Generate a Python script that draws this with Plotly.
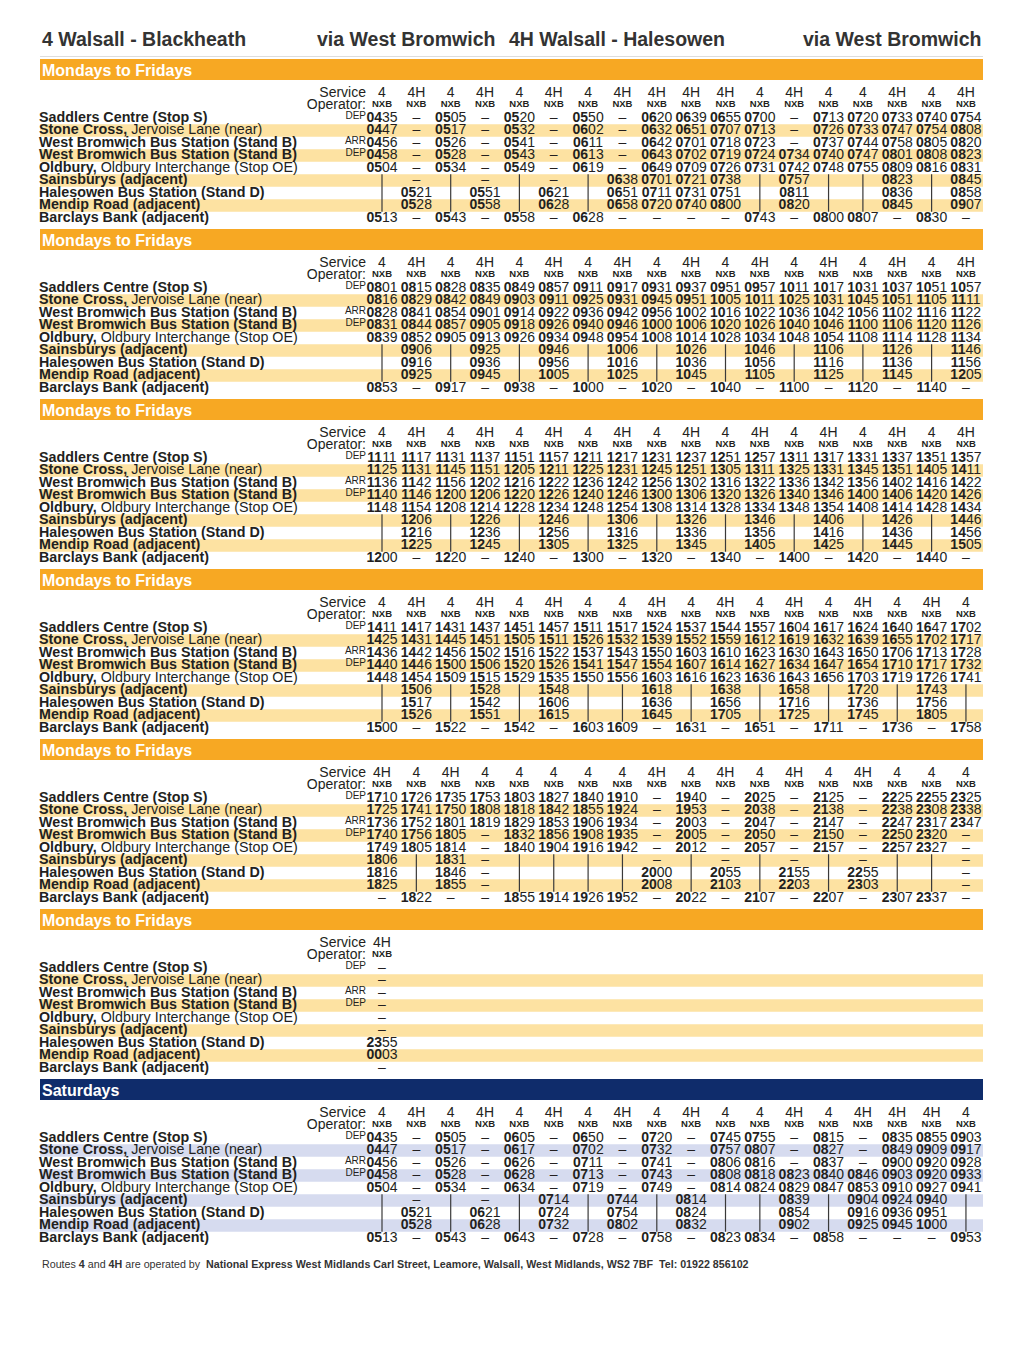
import plotly.graph_objects as go

# Timetable data ("-" = dash, "|" = bus passes without stopping, "" = blank)
stops = [
    "<b>Saddlers Centre (Stop S)</b>",
    "<b>Stone Cross,</b> Jervoise Lane (near)",
    "<b>West Bromwich Bus Station (Stand B)</b>",
    "<b>West Bromwich Bus Station (Stand B)</b>",
    "<b>Oldbury,</b> Oldbury Interchange (Stop OE)",
    "<b>Sainsburys (adjacent)</b>",
    "<b>Halesowen Bus Station (Stand D)</b>",
    "<b>Mendip Road (adjacent)</b>",
    "<b>Barclays Bank (adjacent)</b>",
]
arr_dep = ["DEP", "", "ARR", "DEP", "", "", "", "", ""]

mf1_routes = ["4", "4H", "4", "4H", "4", "4H", "4", "4H", "4H", "4H", "4H", "4", "4H", "4", "4", "4H", "4", "4H"]
mf1_times = [
    ["0435", "-", "0505", "-", "0520", "-", "0550", "-", "0620", "0639", "0655", "0700", "-", "0713", "0720", "0733", "0740", "0754"],
    ["0447", "-", "0517", "-", "0532", "-", "0602", "-", "0632", "0651", "0707", "0713", "-", "0726", "0733", "0747", "0754", "0808"],
    ["0456", "-", "0526", "-", "0541", "-", "0611", "-", "0642", "0701", "0718", "0723", "-", "0737", "0744", "0758", "0805", "0820"],
    ["0458", "-", "0528", "-", "0543", "-", "0613", "-", "0643", "0702", "0719", "0724", "0734", "0740", "0747", "0801", "0808", "0823"],
    ["0504", "-", "0534", "-", "0549", "-", "0619", "-", "0649", "0709", "0726", "0731", "0742", "0748", "0755", "0809", "0816", "0831"],
    ["|", "-", "|", "-", "|", "-", "|", "0638", "0701", "0721", "0738", "|", "0757", "|", "|", "0823", "|", "0845"],
    ["|", "0521", "|", "0551", "|", "0621", "|", "0651", "0711", "0731", "0751", "|", "0811", "|", "|", "0836", "|", "0858"],
    ["|", "0528", "|", "0558", "|", "0628", "|", "0658", "0720", "0740", "0800", "|", "0820", "|", "|", "0845", "|", "0907"],
    ["0513", "-", "0543", "-", "0558", "-", "0628", "-", "-", "-", "-", "0743", "-", "0800", "0807", "-", "0830", "-"],
]

mf2_routes = ["4", "4H"] * 9
mf2_times = [
    ["0801", "0815", "0828", "0835", "0849", "0857", "0911", "0917", "0931", "0937", "0951", "0957", "1011", "1017", "1031", "1037", "1051", "1057"],
    ["0816", "0829", "0842", "0849", "0903", "0911", "0925", "0931", "0945", "0951", "1005", "1011", "1025", "1031", "1045", "1051", "1105", "1111"],
    ["0828", "0841", "0854", "0901", "0914", "0922", "0936", "0942", "0956", "1002", "1016", "1022", "1036", "1042", "1056", "1102", "1116", "1122"],
    ["0831", "0844", "0857", "0905", "0918", "0926", "0940", "0946", "1000", "1006", "1020", "1026", "1040", "1046", "1100", "1106", "1120", "1126"],
    ["0839", "0852", "0905", "0913", "0926", "0934", "0948", "0954", "1008", "1014", "1028", "1034", "1048", "1054", "1108", "1114", "1128", "1134"],
    ["|", "0906", "|", "0925", "|", "0946", "|", "1006", "|", "1026", "|", "1046", "|", "1106", "|", "1126", "|", "1146"],
    ["|", "0916", "|", "0936", "|", "0956", "|", "1016", "|", "1036", "|", "1056", "|", "1116", "|", "1136", "|", "1156"],
    ["|", "0925", "|", "0945", "|", "1005", "|", "1025", "|", "1045", "|", "1105", "|", "1125", "|", "1145", "|", "1205"],
    ["0853", "-", "0917", "-", "0938", "-", "1000", "-", "1020", "-", "1040", "-", "1100", "-", "1120", "-", "1140", "-"],
]

mf3_routes = ["4", "4H"] * 9
mf3_times = [
    ["1111", "1117", "1131", "1137", "1151", "1157", "1211", "1217", "1231", "1237", "1251", "1257", "1311", "1317", "1331", "1337", "1351", "1357"],
    ["1125", "1131", "1145", "1151", "1205", "1211", "1225", "1231", "1245", "1251", "1305", "1311", "1325", "1331", "1345", "1351", "1405", "1411"],
    ["1136", "1142", "1156", "1202", "1216", "1222", "1236", "1242", "1256", "1302", "1316", "1322", "1336", "1342", "1356", "1402", "1416", "1422"],
    ["1140", "1146", "1200", "1206", "1220", "1226", "1240", "1246", "1300", "1306", "1320", "1326", "1340", "1346", "1400", "1406", "1420", "1426"],
    ["1148", "1154", "1208", "1214", "1228", "1234", "1248", "1254", "1308", "1314", "1328", "1334", "1348", "1354", "1408", "1414", "1428", "1434"],
    ["|", "1206", "|", "1226", "|", "1246", "|", "1306", "|", "1326", "|", "1346", "|", "1406", "|", "1426", "|", "1446"],
    ["|", "1216", "|", "1236", "|", "1256", "|", "1316", "|", "1336", "|", "1356", "|", "1416", "|", "1436", "|", "1456"],
    ["|", "1225", "|", "1245", "|", "1305", "|", "1325", "|", "1345", "|", "1405", "|", "1425", "|", "1445", "|", "1505"],
    ["1200", "-", "1220", "-", "1240", "-", "1300", "-", "1320", "-", "1340", "-", "1400", "-", "1420", "-", "1440", "-"],
]

mf4_routes = ["4", "4H", "4", "4H", "4", "4H", "4", "4", "4H", "4", "4H", "4", "4H", "4", "4H", "4", "4H", "4"]
mf4_times = [
    ["1411", "1417", "1431", "1437", "1451", "1457", "1511", "1517", "1524", "1537", "1544", "1557", "1604", "1617", "1624", "1640", "1647", "1702"],
    ["1425", "1431", "1445", "1451", "1505", "1511", "1526", "1532", "1539", "1552", "1559", "1612", "1619", "1632", "1639", "1655", "1702", "1717"],
    ["1436", "1442", "1456", "1502", "1516", "1522", "1537", "1543", "1550", "1603", "1610", "1623", "1630", "1643", "1650", "1706", "1713", "1728"],
    ["1440", "1446", "1500", "1506", "1520", "1526", "1541", "1547", "1554", "1607", "1614", "1627", "1634", "1647", "1654", "1710", "1717", "1732"],
    ["1448", "1454", "1509", "1515", "1529", "1535", "1550", "1556", "1603", "1616", "1623", "1636", "1643", "1656", "1703", "1719", "1726", "1741"],
    ["|", "1506", "|", "1528", "|", "1548", "|", "|", "1618", "|", "1638", "|", "1658", "|", "1720", "|", "1743", "|"],
    ["|", "1517", "|", "1542", "|", "1606", "|", "|", "1636", "|", "1656", "|", "1716", "|", "1736", "|", "1756", "|"],
    ["|", "1526", "|", "1551", "|", "1615", "|", "|", "1645", "|", "1705", "|", "1725", "|", "1745", "|", "1805", "|"],
    ["1500", "-", "1522", "-", "1542", "-", "1603", "1609", "-", "1631", "-", "1651", "-", "1711", "-", "1736", "-", "1758"],
]

mf5_routes = ["4H", "4", "4H", "4", "4", "4", "4", "4", "4H", "4", "4H", "4", "4H", "4", "4H", "4", "4", "4"]
mf5_times = [
    ["1710", "1726", "1735", "1753", "1803", "1827", "1840", "1910", "-", "1940", "-", "2025", "-", "2125", "-", "2225", "2255", "2325"],
    ["1725", "1741", "1750", "1808", "1818", "1842", "1855", "1924", "-", "1953", "-", "2038", "-", "2138", "-", "2238", "2308", "2338"],
    ["1736", "1752", "1801", "1819", "1829", "1853", "1906", "1934", "-", "2003", "-", "2047", "-", "2147", "-", "2247", "2317", "2347"],
    ["1740", "1756", "1805", "-", "1832", "1856", "1908", "1935", "-", "2005", "-", "2050", "-", "2150", "-", "2250", "2320", "-"],
    ["1749", "1805", "1814", "-", "1840", "1904", "1916", "1942", "-", "2012", "-", "2057", "-", "2157", "-", "2257", "2327", "-"],
    ["1806", "|", "1831", "-", "|", "|", "|", "|", "-", "|", "-", "|", "-", "|", "-", "|", "|", "-"],
    ["1816", "|", "1846", "-", "|", "|", "|", "|", "2000", "|", "2055", "|", "2155", "|", "2255", "|", "|", "-"],
    ["1825", "|", "1855", "-", "|", "|", "|", "|", "2008", "|", "2103", "|", "2203", "|", "2303", "|", "|", "-"],
    ["-", "1822", "-", "-", "1855", "1914", "1926", "1952", "-", "2022", "-", "2107", "-", "2207", "-", "2307", "2337", "-"],
]

mf6_routes = ["4H"]
mf6_times = [["-"], ["-"], ["-"], ["-"], ["-"], ["-"], ["2355"], ["0003"], ["-"]]

sat_routes = ["4", "4H", "4", "4H", "4", "4H", "4", "4H", "4", "4H", "4", "4", "4H", "4", "4H", "4H", "4H", "4"]
sat_times = [
    ["0435", "-", "0505", "-", "0605", "-", "0650", "-", "0720", "-", "0745", "0755", "-", "0815", "-", "0835", "0855", "0903"],
    ["0447", "-", "0517", "-", "0617", "-", "0702", "-", "0732", "-", "0757", "0807", "-", "0827", "-", "0849", "0909", "0917"],
    ["0456", "-", "0526", "-", "0626", "-", "0711", "-", "0741", "-", "0806", "0816", "-", "0837", "-", "0900", "0920", "0928"],
    ["0458", "-", "0528", "-", "0628", "-", "0713", "-", "0743", "-", "0808", "0818", "0823", "0840", "0846", "0903", "0920", "0933"],
    ["0504", "-", "0534", "-", "0634", "-", "0719", "-", "0749", "-", "0814", "0824", "0829", "0847", "0853", "0910", "0927", "0941"],
    ["|", "-", "|", "-", "|", "0714", "|", "0744", "|", "0814", "|", "|", "0839", "|", "0904", "0924", "0940", "|"],
    ["|", "0521", "|", "0621", "|", "0724", "|", "0754", "|", "0824", "|", "|", "0854", "|", "0916", "0936", "0951", "|"],
    ["|", "0528", "|", "0628", "|", "0732", "|", "0802", "|", "0832", "|", "|", "0902", "|", "0925", "0945", "1000", "|"],
    ["0513", "-", "0543", "-", "0643", "-", "0728", "-", "0758", "-", "0823", "0834", "-", "0858", "-", "-", "-", "0953"],
]

blocks = [
    ("Mondays to Fridays", mf1_routes, mf1_times, "wk"),
    ("Mondays to Fridays", mf2_routes, mf2_times, "wk"),
    ("Mondays to Fridays", mf3_routes, mf3_times, "wk"),
    ("Mondays to Fridays", mf4_routes, mf4_times, "wk"),
    ("Mondays to Fridays", mf5_routes, mf5_times, "wk"),
    ("Mondays to Fridays", mf6_routes, mf6_times, "wk"),
    ("Saturdays", sat_routes, sat_times, "sat"),
]

# styling
INK = "#231f20"
FONT = "Liberation Sans, Arial, Helvetica, sans-serif"
BAR = {"wk": "#f7a823", "sat": "#0f2c6b"}
SHADE = {"wk": "#fde2a2", "sat": "#d6dbef"}
X0, X1 = 40, 983
COL0, COLW = 382, 34.35
ROWH = 12.5
OFF = 8  # the page body has an 8px margin


def fmt(t):
    if t.isdigit():
        return "<b>" + t[:2] + "</b>" + t[2:]
    if t == "-":
        return "–"
    return ""


fig = go.Figure()
shapes = []
annotations = []

# title line
shapes.append(dict(type="line", x0=X0, x1=X1, y0=56.5, y1=56.5, line=dict(color="#dddddd", width=1)))
for txt, x, anchor in [("4 Walsall - Blackheath", X0, "left"), ("via West Bromwich", 497, "right"),
                       ("4H Walsall - Halesowen", 507, "left"), ("via West Bromwich", X1, "right")]:
    annotations.append(dict(text="<b>" + txt + "</b>", x=x, y=39, xanchor=anchor, yanchor="middle",
                            showarrow=False, font=dict(family=FONT, size=19.5, color="#333333")))

for b, (name, routes, times, kind) in enumerate(blocks):
    top = 59 + 170 * b
    row_y = [top + 59 + ROWH * i for i in range(len(stops))]
    col_x = [COL0 + COLW * j for j in range(len(routes))]

    # heading bar
    shapes.append(dict(type="rect", x0=X0, x1=X1, y0=top, y1=top + 21, fillcolor=BAR[kind], line_width=0, layer="below"))
    annotations.append(dict(text="<b>" + name + "</b>", x=X0, y=top + 11, xanchor="left", yanchor="middle",
                            showarrow=False, font=dict(family=FONT, size=16, color="white")))
    # shaded rows
    for i in range(1, len(stops), 2):
        shapes.append(dict(type="rect", x0=X0, x1=X1, y0=row_y[i] - ROWH / 2, y1=row_y[i] + ROWH / 2,
                           fillcolor=SHADE[kind], line_width=0, layer="below"))

    # stop names
    fig.add_trace(go.Scatter(x=[X0 - 1] * len(stops), y=row_y, text=stops, mode="text", textposition="middle right",
                             textfont=dict(family=FONT, size=14.3, color=INK), hoverinfo="skip"))
    # ARR / DEP
    fig.add_trace(go.Scatter(x=[COL0 - 16] * len(stops), y=[y - 2 for y in row_y], text=arr_dep, mode="text",
                             textposition="middle left", textfont=dict(family=FONT, size=10, color=INK), hoverinfo="skip"))
    # header
    fig.add_trace(go.Scatter(x=[366, 366], y=[top + 34.5, top + 46.5], text=["Service", "Operator:"], mode="text",
                             textposition="middle left", textfont=dict(family=FONT, size=14, color=INK), hoverinfo="skip"))
    fig.add_trace(go.Scatter(x=col_x, y=[top + 34] * len(routes), text=routes, mode="text",
                             textfont=dict(family=FONT, size=14, color=INK), hoverinfo="skip"))
    fig.add_trace(go.Scatter(x=col_x, y=[top + 45.5] * len(routes), text=["<b>NXB</b>"] * len(routes), mode="text",
                             textfont=dict(family=FONT, size=9.5, color=INK), hoverinfo="skip"))

    # times
    xs, ys, ts = [], [], []
    lx, ly = [], []
    for i, row in enumerate(times):
        for j, t in enumerate(row):
            if t == "|":
                continue
            xs.append(col_x[j])
            ys.append(row_y[i])
            ts.append(fmt(t))
    for j in range(len(routes)):
        rows = [i for i in range(len(times)) if times[i][j] == "|"]
        if rows:
            lx += [col_x[j], col_x[j], None]
            ly += [row_y[min(rows)] - ROWH / 2, row_y[max(rows)] + ROWH / 2, None]
    fig.add_trace(go.Scatter(x=xs, y=ys, text=ts, mode="text", textfont=dict(family=FONT, size=14, color=INK),
                             hoverinfo="skip"))
    if lx:
        fig.add_trace(go.Scatter(x=lx, y=ly, mode="lines", line=dict(color="#3a3a3a", width=1.2), hoverinfo="skip"))

annotations.append(dict(
    text="Routes <b>4</b> and <b>4H</b> are operated by  <b>National Express West Midlands Carl Street, Leamore, "
         "Walsall, West Midlands, WS2 7BF  Tel: 01922 856102</b>",
    x=X0, y=1264, xanchor="left", yanchor="middle", showarrow=False,
    font=dict(family=FONT, size=10.7, color="#333333")))

fig.update_layout(
    width=1020, height=1357, margin=dict(l=0, r=0, t=0, b=0),
    paper_bgcolor="white", plot_bgcolor="white", showlegend=False,
    xaxis=dict(range=[OFF, 1020 + OFF], visible=False, fixedrange=True),
    yaxis=dict(range=[1357 + OFF, OFF], visible=False, fixedrange=True),
    shapes=shapes, annotations=annotations,
)

fig.write_html("out.html", config={"displayModeBar": False})
